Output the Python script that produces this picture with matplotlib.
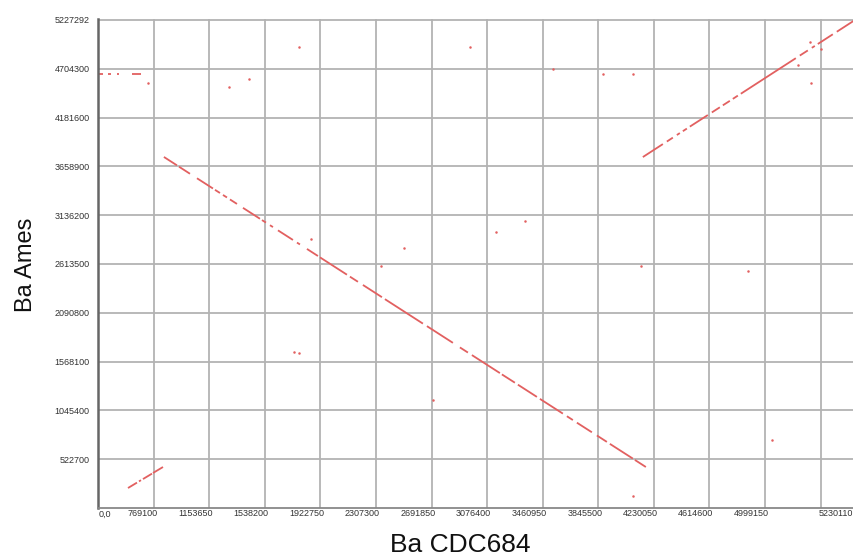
import matplotlib
matplotlib.use('Agg')
import matplotlib.pyplot as plt
import matplotlib.transforms as mtransforms

plt.rcParams['font.family'] = ['Liberation Sans', 'DejaVu Sans']

# axis ranges of the dot plot
X_MAX = 5230110
Y_MAX = 5237700
X_STEP = 384550

x_tick_labels = ["0,0", "769100", "1153650", "1538200", "1922750", "2307300",
                 "2691850", "3076400", "3460950", "3845500", "4230050",
                 "4614600", "4999150", "5230110"]
y_tick_values = [522700, 1045400, 1568100, 2090800, 2613500, 3136200,
                 3658900, 4181600, 4704300, 5227292]

# inverted block: (x0, x1, y0, y1)
main_dashes = [
    (456000, 546400, 3760000, 3670000), (560200, 636300, 3656000, 3580000),
    (684700, 795400, 3532000, 3422000), (809200, 843800, 3408000, 3374000),
    (864600, 892200, 3353000, 3326000), (913000, 961400, 3305000, 3257000),
    (1002900, 1120500, 3215000, 3098000), (1134300, 1162000, 3084000, 3057000),
    (1189600, 1210400, 3029000, 3009000), (1245000, 1348700, 2974000, 2871000),
    (1376400, 1397100, 2843000, 2823000), (1445500, 1521600, 2775000, 2699000),
    (1535400, 1722200, 2685000, 2499000), (1742900, 1798300, 2478000, 2423000),
    (1832800, 1964300, 2389000, 2258000), (1985000, 2247800, 2237000, 1975000),
    (2275500, 2455300, 1948000, 1769000), (2503700, 2559100, 1720000, 1665000),
    (2586700, 2780400, 1638000, 1445000), (2794200, 2884100, 1431000, 1342000),
    (2904900, 3036300, 1321000, 1190000), (3057100, 3216100, 1169000, 1011000),
    (3243800, 3285300, 983000, 942000), (3313000, 3416700, 914000, 811000),
    (3451300, 3520400, 777000, 708000), (3541200, 3700300, 687000, 529000),
    (3714100, 3790200, 515000, 439000),
]

# forward block, upper right
upper_dashes = [
    (3769400, 3907800, 3759000, 3898000), (3935400, 3976900, 3925000, 3967000),
    (4004600, 4025300, 3995000, 4016000), (4046100, 4073800, 4036000, 4064000),
    (4094500, 4219000, 4085000, 4209000), (4246700, 4302000, 4237000, 4292000),
    (4322800, 4371200, 4313000, 4361000), (4391900, 4426500, 4382000, 4417000),
    (4447200, 4827600, 4437000, 4818000), (4855300, 4910600, 4846000, 4901000),
    (4938300, 4959000, 4929000, 4949000), (4979800, 5083500, 4970000, 5074000),
    (5111200, 5228800, 5101000, 5219000),
]

# forward block, lower left
lower_dashes = [
    (207500, 269700, 214000, 272000), (283600, 297400, 285000, 298000),
    (311200, 373500, 310000, 368000), (380400, 449600, 375000, 439000),
]

# short repeats near the top left
top_dashes = [
    (0, 34600, 4648600, 4648600), (69200, 89900, 4648600, 4648600),
    (131400, 145200, 4648600, 4648600), (235200, 297400, 4648600, 4648600),
]

dot_x = [345800, 906000, 1044400, 1390200, 2572900, 3147000, 3492800, 3700300,
         1473200, 2116400, 1957400, 2752700, 2953300, 1355600, 1390200,
         2317000, 3755600, 3700300, 4495700, 4661700, 4924500, 5000600,
         4841500, 4931400]
dot_y = [4552200, 4509300, 4595000, 4937800, 4937800, 4702100, 4648600, 4648600,
         2881300, 2784900, 2592100, 2956200, 3074100, 1670900, 1660200,
         1156800, 2592100, 128500, 2538500, 728300, 4991300, 4916400,
         4745000, 4552200]

RED = '#e26060'
GRID = '#b3b3b3'

fig = plt.figure(figsize=(8.54, 5.56), dpi=100)
ax = fig.add_axes([98 / 854, 48 / 556, 756 / 854, 489 / 556])

ax.set_xlim(0, X_MAX)
ax.set_ylim(0, Y_MAX)

ax.set_xticks([i * X_STEP for i in range(len(x_tick_labels))])
ax.set_xticklabels([])
ax.set_yticks(y_tick_values)
ax.set_yticklabels([str(v) for v in y_tick_values])
ax.tick_params(axis='both', length=0)
ax.tick_params(axis='y', pad=6, labelsize=6.5, labelcolor='#333333')
ax.grid(True, color=GRID, linewidth=1.3)
ax.set_axisbelow(True)

for s in ['top', 'right']:
    ax.spines[s].set_visible(False)
ax.spines['left'].set_color('#666666')
ax.spines['left'].set_linewidth(1.8)
ax.spines['bottom'].set_color('#888888')
ax.spines['bottom'].set_linewidth(1.3)

for group in (main_dashes, upper_dashes, lower_dashes, top_dashes):
    for x0, x1, y0, y1 in group:
        ax.plot([x0, x1], [y0, y1], color=RED, linewidth=1.3,
                solid_capstyle='butt', clip_on=False)

ax.plot(dot_x, dot_y, linestyle='none', marker='o', markersize=1.8,
        markeredgewidth=0, color=RED)

# x tick labels sit just left of their grid line
last = len(x_tick_labels) - 1
for i, lab in enumerate(x_tick_labels[:-1]):
    ha, dx = ('left', 1) if i == 0 else ('right', 4)
    tr = mtransforms.offset_copy(ax.get_xaxis_transform(), fig=fig,
                                 x=dx, y=-6, units='dots')
    ax.text(i * X_STEP, 0, lab, transform=tr, ha=ha, va='center',
            fontsize=6.5, color='#333333', clip_on=False)
# last label runs up to the right edge
tr = mtransforms.offset_copy(ax.transAxes, fig=fig, x=-1, y=-6, units='dots')
ax.text(1.0, 0, x_tick_labels[last], transform=tr, ha='right', va='center',
        fontsize=6.5, color='#333333', clip_on=False)

fig.text(460 / 854, 1 - 552 / 556, "Ba CDC684", ha='center', va='baseline',
         fontsize=19, color='#111111')
fig.text(32 / 854, 1 - 265 / 556, "Ba Ames", ha='center', va='baseline',
         rotation=90, rotation_mode='anchor', fontsize=17, color='#111111')

fig.savefig('out.png', dpi=100)
